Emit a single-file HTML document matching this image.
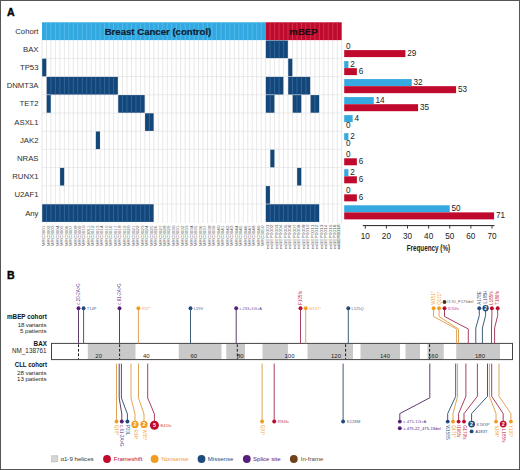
<!DOCTYPE html>
<html><head><meta charset="utf-8"><style>
html,body{margin:0;padding:0;background:#fff;}
body{width:520px;height:470px;overflow:hidden;}
svg{display:block;font-family:"Liberation Sans", sans-serif;}
</style></head><body>
<svg width="520" height="470" viewBox="0 0 520 470">
<rect x="0" y="0" width="520" height="470" fill="#fff"/>
<text x="7" y="16.4" font-size="10.6" font-weight="bold" fill="#000" stroke="#000" stroke-width="0.35">A</text>
<text x="38.5" y="33.60" font-size="7.75" fill="#2e2e2e" text-anchor="end">Cohort</text>
<text x="38.5" y="51.80" font-size="7.75" fill="#2e2e2e" text-anchor="end">BAX</text>
<text x="38.5" y="70.00" font-size="7.75" fill="#2e2e2e" text-anchor="end">TP53</text>
<text x="38.5" y="88.20" font-size="7.75" fill="#2e2e2e" text-anchor="end">DNMT3A</text>
<text x="38.5" y="106.40" font-size="7.75" fill="#2e2e2e" text-anchor="end">TET2</text>
<text x="38.5" y="124.60" font-size="7.75" fill="#2e2e2e" text-anchor="end">ASXL1</text>
<text x="38.5" y="142.80" font-size="7.75" fill="#2e2e2e" text-anchor="end">JAK2</text>
<text x="38.5" y="161.00" font-size="7.75" fill="#2e2e2e" text-anchor="end">NRAS</text>
<text x="38.5" y="179.20" font-size="7.75" fill="#2e2e2e" text-anchor="end">RUNX1</text>
<text x="38.5" y="197.40" font-size="7.75" fill="#2e2e2e" text-anchor="end">U2AF1</text>
<text x="38.5" y="215.60" font-size="7.75" fill="#2e2e2e" text-anchor="end">Any</text>
<rect x="42.0" y="22.0" width="299.70" height="200.20" fill="#fff"/>
<line x1="42.00" y1="40.20" x2="42.00" y2="223.00" stroke="#d9d9d9" stroke-width="0.6"/>
<line x1="46.47" y1="40.20" x2="46.47" y2="223.00" stroke="#d9d9d9" stroke-width="0.6"/>
<line x1="50.95" y1="40.20" x2="50.95" y2="223.00" stroke="#d9d9d9" stroke-width="0.6"/>
<line x1="55.42" y1="40.20" x2="55.42" y2="223.00" stroke="#d9d9d9" stroke-width="0.6"/>
<line x1="59.89" y1="40.20" x2="59.89" y2="223.00" stroke="#d9d9d9" stroke-width="0.6"/>
<line x1="64.37" y1="40.20" x2="64.37" y2="223.00" stroke="#d9d9d9" stroke-width="0.6"/>
<line x1="68.84" y1="40.20" x2="68.84" y2="223.00" stroke="#d9d9d9" stroke-width="0.6"/>
<line x1="73.31" y1="40.20" x2="73.31" y2="223.00" stroke="#d9d9d9" stroke-width="0.6"/>
<line x1="77.79" y1="40.20" x2="77.79" y2="223.00" stroke="#d9d9d9" stroke-width="0.6"/>
<line x1="82.26" y1="40.20" x2="82.26" y2="223.00" stroke="#d9d9d9" stroke-width="0.6"/>
<line x1="86.73" y1="40.20" x2="86.73" y2="223.00" stroke="#d9d9d9" stroke-width="0.6"/>
<line x1="91.20" y1="40.20" x2="91.20" y2="223.00" stroke="#d9d9d9" stroke-width="0.6"/>
<line x1="95.68" y1="40.20" x2="95.68" y2="223.00" stroke="#d9d9d9" stroke-width="0.6"/>
<line x1="100.15" y1="40.20" x2="100.15" y2="223.00" stroke="#d9d9d9" stroke-width="0.6"/>
<line x1="104.62" y1="40.20" x2="104.62" y2="223.00" stroke="#d9d9d9" stroke-width="0.6"/>
<line x1="109.10" y1="40.20" x2="109.10" y2="223.00" stroke="#d9d9d9" stroke-width="0.6"/>
<line x1="113.57" y1="40.20" x2="113.57" y2="223.00" stroke="#d9d9d9" stroke-width="0.6"/>
<line x1="118.04" y1="40.20" x2="118.04" y2="223.00" stroke="#d9d9d9" stroke-width="0.6"/>
<line x1="122.52" y1="40.20" x2="122.52" y2="223.00" stroke="#d9d9d9" stroke-width="0.6"/>
<line x1="126.99" y1="40.20" x2="126.99" y2="223.00" stroke="#d9d9d9" stroke-width="0.6"/>
<line x1="131.46" y1="40.20" x2="131.46" y2="223.00" stroke="#d9d9d9" stroke-width="0.6"/>
<line x1="135.94" y1="40.20" x2="135.94" y2="223.00" stroke="#d9d9d9" stroke-width="0.6"/>
<line x1="140.41" y1="40.20" x2="140.41" y2="223.00" stroke="#d9d9d9" stroke-width="0.6"/>
<line x1="144.88" y1="40.20" x2="144.88" y2="223.00" stroke="#d9d9d9" stroke-width="0.6"/>
<line x1="149.36" y1="40.20" x2="149.36" y2="223.00" stroke="#d9d9d9" stroke-width="0.6"/>
<line x1="153.83" y1="40.20" x2="153.83" y2="223.00" stroke="#d9d9d9" stroke-width="0.6"/>
<line x1="158.30" y1="40.20" x2="158.30" y2="223.00" stroke="#d9d9d9" stroke-width="0.6"/>
<line x1="162.77" y1="40.20" x2="162.77" y2="223.00" stroke="#d9d9d9" stroke-width="0.6"/>
<line x1="167.25" y1="40.20" x2="167.25" y2="223.00" stroke="#d9d9d9" stroke-width="0.6"/>
<line x1="171.72" y1="40.20" x2="171.72" y2="223.00" stroke="#d9d9d9" stroke-width="0.6"/>
<line x1="176.19" y1="40.20" x2="176.19" y2="223.00" stroke="#d9d9d9" stroke-width="0.6"/>
<line x1="180.67" y1="40.20" x2="180.67" y2="223.00" stroke="#d9d9d9" stroke-width="0.6"/>
<line x1="185.14" y1="40.20" x2="185.14" y2="223.00" stroke="#d9d9d9" stroke-width="0.6"/>
<line x1="189.61" y1="40.20" x2="189.61" y2="223.00" stroke="#d9d9d9" stroke-width="0.6"/>
<line x1="194.09" y1="40.20" x2="194.09" y2="223.00" stroke="#d9d9d9" stroke-width="0.6"/>
<line x1="198.56" y1="40.20" x2="198.56" y2="223.00" stroke="#d9d9d9" stroke-width="0.6"/>
<line x1="203.03" y1="40.20" x2="203.03" y2="223.00" stroke="#d9d9d9" stroke-width="0.6"/>
<line x1="207.51" y1="40.20" x2="207.51" y2="223.00" stroke="#d9d9d9" stroke-width="0.6"/>
<line x1="211.98" y1="40.20" x2="211.98" y2="223.00" stroke="#d9d9d9" stroke-width="0.6"/>
<line x1="216.45" y1="40.20" x2="216.45" y2="223.00" stroke="#d9d9d9" stroke-width="0.6"/>
<line x1="220.93" y1="40.20" x2="220.93" y2="223.00" stroke="#d9d9d9" stroke-width="0.6"/>
<line x1="225.40" y1="40.20" x2="225.40" y2="223.00" stroke="#d9d9d9" stroke-width="0.6"/>
<line x1="229.87" y1="40.20" x2="229.87" y2="223.00" stroke="#d9d9d9" stroke-width="0.6"/>
<line x1="234.34" y1="40.20" x2="234.34" y2="223.00" stroke="#d9d9d9" stroke-width="0.6"/>
<line x1="238.82" y1="40.20" x2="238.82" y2="223.00" stroke="#d9d9d9" stroke-width="0.6"/>
<line x1="243.29" y1="40.20" x2="243.29" y2="223.00" stroke="#d9d9d9" stroke-width="0.6"/>
<line x1="247.76" y1="40.20" x2="247.76" y2="223.00" stroke="#d9d9d9" stroke-width="0.6"/>
<line x1="252.24" y1="40.20" x2="252.24" y2="223.00" stroke="#d9d9d9" stroke-width="0.6"/>
<line x1="256.71" y1="40.20" x2="256.71" y2="223.00" stroke="#d9d9d9" stroke-width="0.6"/>
<line x1="261.18" y1="40.20" x2="261.18" y2="223.00" stroke="#d9d9d9" stroke-width="0.6"/>
<line x1="265.66" y1="40.20" x2="265.66" y2="223.00" stroke="#d9d9d9" stroke-width="0.6"/>
<line x1="270.13" y1="40.20" x2="270.13" y2="223.00" stroke="#d9d9d9" stroke-width="0.6"/>
<line x1="274.60" y1="40.20" x2="274.60" y2="223.00" stroke="#d9d9d9" stroke-width="0.6"/>
<line x1="279.08" y1="40.20" x2="279.08" y2="223.00" stroke="#d9d9d9" stroke-width="0.6"/>
<line x1="283.55" y1="40.20" x2="283.55" y2="223.00" stroke="#d9d9d9" stroke-width="0.6"/>
<line x1="288.02" y1="40.20" x2="288.02" y2="223.00" stroke="#d9d9d9" stroke-width="0.6"/>
<line x1="292.50" y1="40.20" x2="292.50" y2="223.00" stroke="#d9d9d9" stroke-width="0.6"/>
<line x1="296.97" y1="40.20" x2="296.97" y2="223.00" stroke="#d9d9d9" stroke-width="0.6"/>
<line x1="301.44" y1="40.20" x2="301.44" y2="223.00" stroke="#d9d9d9" stroke-width="0.6"/>
<line x1="305.91" y1="40.20" x2="305.91" y2="223.00" stroke="#d9d9d9" stroke-width="0.6"/>
<line x1="310.39" y1="40.20" x2="310.39" y2="223.00" stroke="#d9d9d9" stroke-width="0.6"/>
<line x1="314.86" y1="40.20" x2="314.86" y2="223.00" stroke="#d9d9d9" stroke-width="0.6"/>
<line x1="319.33" y1="40.20" x2="319.33" y2="223.00" stroke="#d9d9d9" stroke-width="0.6"/>
<line x1="323.81" y1="40.20" x2="323.81" y2="223.00" stroke="#d9d9d9" stroke-width="0.6"/>
<line x1="328.28" y1="40.20" x2="328.28" y2="223.00" stroke="#d9d9d9" stroke-width="0.6"/>
<line x1="332.75" y1="40.20" x2="332.75" y2="223.00" stroke="#d9d9d9" stroke-width="0.6"/>
<line x1="337.23" y1="40.20" x2="337.23" y2="223.00" stroke="#d9d9d9" stroke-width="0.6"/>
<line x1="341.70" y1="40.20" x2="341.70" y2="223.00" stroke="#d9d9d9" stroke-width="0.6"/>
<line x1="42.0" y1="58.40" x2="341.70" y2="58.40" stroke="#dedede" stroke-width="0.6"/>
<line x1="42.0" y1="76.60" x2="341.70" y2="76.60" stroke="#dedede" stroke-width="0.6"/>
<line x1="42.0" y1="94.80" x2="341.70" y2="94.80" stroke="#dedede" stroke-width="0.6"/>
<line x1="42.0" y1="113.00" x2="341.70" y2="113.00" stroke="#dedede" stroke-width="0.6"/>
<line x1="42.0" y1="131.20" x2="341.70" y2="131.20" stroke="#dedede" stroke-width="0.6"/>
<line x1="42.0" y1="149.40" x2="341.70" y2="149.40" stroke="#dedede" stroke-width="0.6"/>
<line x1="42.0" y1="167.60" x2="341.70" y2="167.60" stroke="#dedede" stroke-width="0.6"/>
<line x1="42.0" y1="185.80" x2="341.70" y2="185.80" stroke="#dedede" stroke-width="0.6"/>
<line x1="42.0" y1="204.00" x2="341.70" y2="204.00" stroke="#dedede" stroke-width="0.6"/>
<rect x="42.0" y="22.3" width="223.66" height="17.80" fill="#32a8e0"/>
<rect x="265.66" y="22.3" width="76.04" height="17.80" fill="#be0a2c"/>
<line x1="46.47" y1="22.3" x2="46.47" y2="40.10" stroke="#5bbfee" stroke-width="0.8"/>
<line x1="50.95" y1="22.3" x2="50.95" y2="40.10" stroke="#5bbfee" stroke-width="0.8"/>
<line x1="55.42" y1="22.3" x2="55.42" y2="40.10" stroke="#5bbfee" stroke-width="0.8"/>
<line x1="59.89" y1="22.3" x2="59.89" y2="40.10" stroke="#5bbfee" stroke-width="0.8"/>
<line x1="64.37" y1="22.3" x2="64.37" y2="40.10" stroke="#5bbfee" stroke-width="0.8"/>
<line x1="68.84" y1="22.3" x2="68.84" y2="40.10" stroke="#5bbfee" stroke-width="0.8"/>
<line x1="73.31" y1="22.3" x2="73.31" y2="40.10" stroke="#5bbfee" stroke-width="0.8"/>
<line x1="77.79" y1="22.3" x2="77.79" y2="40.10" stroke="#5bbfee" stroke-width="0.8"/>
<line x1="82.26" y1="22.3" x2="82.26" y2="40.10" stroke="#5bbfee" stroke-width="0.8"/>
<line x1="86.73" y1="22.3" x2="86.73" y2="40.10" stroke="#5bbfee" stroke-width="0.8"/>
<line x1="91.20" y1="22.3" x2="91.20" y2="40.10" stroke="#5bbfee" stroke-width="0.8"/>
<line x1="95.68" y1="22.3" x2="95.68" y2="40.10" stroke="#5bbfee" stroke-width="0.8"/>
<line x1="100.15" y1="22.3" x2="100.15" y2="40.10" stroke="#5bbfee" stroke-width="0.8"/>
<line x1="104.62" y1="22.3" x2="104.62" y2="40.10" stroke="#5bbfee" stroke-width="0.8"/>
<line x1="109.10" y1="22.3" x2="109.10" y2="40.10" stroke="#5bbfee" stroke-width="0.8"/>
<line x1="113.57" y1="22.3" x2="113.57" y2="40.10" stroke="#5bbfee" stroke-width="0.8"/>
<line x1="118.04" y1="22.3" x2="118.04" y2="40.10" stroke="#5bbfee" stroke-width="0.8"/>
<line x1="122.52" y1="22.3" x2="122.52" y2="40.10" stroke="#5bbfee" stroke-width="0.8"/>
<line x1="126.99" y1="22.3" x2="126.99" y2="40.10" stroke="#5bbfee" stroke-width="0.8"/>
<line x1="131.46" y1="22.3" x2="131.46" y2="40.10" stroke="#5bbfee" stroke-width="0.8"/>
<line x1="135.94" y1="22.3" x2="135.94" y2="40.10" stroke="#5bbfee" stroke-width="0.8"/>
<line x1="140.41" y1="22.3" x2="140.41" y2="40.10" stroke="#5bbfee" stroke-width="0.8"/>
<line x1="144.88" y1="22.3" x2="144.88" y2="40.10" stroke="#5bbfee" stroke-width="0.8"/>
<line x1="149.36" y1="22.3" x2="149.36" y2="40.10" stroke="#5bbfee" stroke-width="0.8"/>
<line x1="153.83" y1="22.3" x2="153.83" y2="40.10" stroke="#5bbfee" stroke-width="0.8"/>
<line x1="158.30" y1="22.3" x2="158.30" y2="40.10" stroke="#5bbfee" stroke-width="0.8"/>
<line x1="162.77" y1="22.3" x2="162.77" y2="40.10" stroke="#5bbfee" stroke-width="0.8"/>
<line x1="167.25" y1="22.3" x2="167.25" y2="40.10" stroke="#5bbfee" stroke-width="0.8"/>
<line x1="171.72" y1="22.3" x2="171.72" y2="40.10" stroke="#5bbfee" stroke-width="0.8"/>
<line x1="176.19" y1="22.3" x2="176.19" y2="40.10" stroke="#5bbfee" stroke-width="0.8"/>
<line x1="180.67" y1="22.3" x2="180.67" y2="40.10" stroke="#5bbfee" stroke-width="0.8"/>
<line x1="185.14" y1="22.3" x2="185.14" y2="40.10" stroke="#5bbfee" stroke-width="0.8"/>
<line x1="189.61" y1="22.3" x2="189.61" y2="40.10" stroke="#5bbfee" stroke-width="0.8"/>
<line x1="194.09" y1="22.3" x2="194.09" y2="40.10" stroke="#5bbfee" stroke-width="0.8"/>
<line x1="198.56" y1="22.3" x2="198.56" y2="40.10" stroke="#5bbfee" stroke-width="0.8"/>
<line x1="203.03" y1="22.3" x2="203.03" y2="40.10" stroke="#5bbfee" stroke-width="0.8"/>
<line x1="207.51" y1="22.3" x2="207.51" y2="40.10" stroke="#5bbfee" stroke-width="0.8"/>
<line x1="211.98" y1="22.3" x2="211.98" y2="40.10" stroke="#5bbfee" stroke-width="0.8"/>
<line x1="216.45" y1="22.3" x2="216.45" y2="40.10" stroke="#5bbfee" stroke-width="0.8"/>
<line x1="220.93" y1="22.3" x2="220.93" y2="40.10" stroke="#5bbfee" stroke-width="0.8"/>
<line x1="225.40" y1="22.3" x2="225.40" y2="40.10" stroke="#5bbfee" stroke-width="0.8"/>
<line x1="229.87" y1="22.3" x2="229.87" y2="40.10" stroke="#5bbfee" stroke-width="0.8"/>
<line x1="234.34" y1="22.3" x2="234.34" y2="40.10" stroke="#5bbfee" stroke-width="0.8"/>
<line x1="238.82" y1="22.3" x2="238.82" y2="40.10" stroke="#5bbfee" stroke-width="0.8"/>
<line x1="243.29" y1="22.3" x2="243.29" y2="40.10" stroke="#5bbfee" stroke-width="0.8"/>
<line x1="247.76" y1="22.3" x2="247.76" y2="40.10" stroke="#5bbfee" stroke-width="0.8"/>
<line x1="252.24" y1="22.3" x2="252.24" y2="40.10" stroke="#5bbfee" stroke-width="0.8"/>
<line x1="256.71" y1="22.3" x2="256.71" y2="40.10" stroke="#5bbfee" stroke-width="0.8"/>
<line x1="261.18" y1="22.3" x2="261.18" y2="40.10" stroke="#5bbfee" stroke-width="0.8"/>
<line x1="270.13" y1="22.3" x2="270.13" y2="40.10" stroke="#dc3a58" stroke-width="0.8"/>
<line x1="274.60" y1="22.3" x2="274.60" y2="40.10" stroke="#dc3a58" stroke-width="0.8"/>
<line x1="279.08" y1="22.3" x2="279.08" y2="40.10" stroke="#dc3a58" stroke-width="0.8"/>
<line x1="283.55" y1="22.3" x2="283.55" y2="40.10" stroke="#dc3a58" stroke-width="0.8"/>
<line x1="288.02" y1="22.3" x2="288.02" y2="40.10" stroke="#dc3a58" stroke-width="0.8"/>
<line x1="292.50" y1="22.3" x2="292.50" y2="40.10" stroke="#dc3a58" stroke-width="0.8"/>
<line x1="296.97" y1="22.3" x2="296.97" y2="40.10" stroke="#dc3a58" stroke-width="0.8"/>
<line x1="301.44" y1="22.3" x2="301.44" y2="40.10" stroke="#dc3a58" stroke-width="0.8"/>
<line x1="305.91" y1="22.3" x2="305.91" y2="40.10" stroke="#dc3a58" stroke-width="0.8"/>
<line x1="310.39" y1="22.3" x2="310.39" y2="40.10" stroke="#dc3a58" stroke-width="0.8"/>
<line x1="314.86" y1="22.3" x2="314.86" y2="40.10" stroke="#dc3a58" stroke-width="0.8"/>
<line x1="319.33" y1="22.3" x2="319.33" y2="40.10" stroke="#dc3a58" stroke-width="0.8"/>
<line x1="323.81" y1="22.3" x2="323.81" y2="40.10" stroke="#dc3a58" stroke-width="0.8"/>
<line x1="328.28" y1="22.3" x2="328.28" y2="40.10" stroke="#dc3a58" stroke-width="0.8"/>
<line x1="332.75" y1="22.3" x2="332.75" y2="40.10" stroke="#dc3a58" stroke-width="0.8"/>
<line x1="337.23" y1="22.3" x2="337.23" y2="40.10" stroke="#dc3a58" stroke-width="0.8"/>
<rect x="265.86" y="40.50" width="21.97" height="17.60" fill="#134679"/>
<line x1="270.13" y1="40.55" x2="270.13" y2="58.05" stroke="#3b72aa" stroke-width="0.7"/>
<line x1="274.60" y1="40.55" x2="274.60" y2="58.05" stroke="#3b72aa" stroke-width="0.7"/>
<line x1="279.08" y1="40.55" x2="279.08" y2="58.05" stroke="#3b72aa" stroke-width="0.7"/>
<line x1="283.55" y1="40.55" x2="283.55" y2="58.05" stroke="#3b72aa" stroke-width="0.7"/>
<rect x="42.20" y="58.70" width="4.07" height="17.60" fill="#134679"/>
<rect x="288.22" y="58.70" width="4.07" height="17.60" fill="#134679"/>
<rect x="46.67" y="76.90" width="71.17" height="17.60" fill="#134679"/>
<line x1="50.95" y1="76.95" x2="50.95" y2="94.45" stroke="#3b72aa" stroke-width="0.7"/>
<line x1="55.42" y1="76.95" x2="55.42" y2="94.45" stroke="#3b72aa" stroke-width="0.7"/>
<line x1="59.89" y1="76.95" x2="59.89" y2="94.45" stroke="#3b72aa" stroke-width="0.7"/>
<line x1="64.37" y1="76.95" x2="64.37" y2="94.45" stroke="#3b72aa" stroke-width="0.7"/>
<line x1="68.84" y1="76.95" x2="68.84" y2="94.45" stroke="#3b72aa" stroke-width="0.7"/>
<line x1="73.31" y1="76.95" x2="73.31" y2="94.45" stroke="#3b72aa" stroke-width="0.7"/>
<line x1="77.79" y1="76.95" x2="77.79" y2="94.45" stroke="#3b72aa" stroke-width="0.7"/>
<line x1="82.26" y1="76.95" x2="82.26" y2="94.45" stroke="#3b72aa" stroke-width="0.7"/>
<line x1="86.73" y1="76.95" x2="86.73" y2="94.45" stroke="#3b72aa" stroke-width="0.7"/>
<line x1="91.20" y1="76.95" x2="91.20" y2="94.45" stroke="#3b72aa" stroke-width="0.7"/>
<line x1="95.68" y1="76.95" x2="95.68" y2="94.45" stroke="#3b72aa" stroke-width="0.7"/>
<line x1="100.15" y1="76.95" x2="100.15" y2="94.45" stroke="#3b72aa" stroke-width="0.7"/>
<line x1="104.62" y1="76.95" x2="104.62" y2="94.45" stroke="#3b72aa" stroke-width="0.7"/>
<line x1="109.10" y1="76.95" x2="109.10" y2="94.45" stroke="#3b72aa" stroke-width="0.7"/>
<line x1="113.57" y1="76.95" x2="113.57" y2="94.45" stroke="#3b72aa" stroke-width="0.7"/>
<rect x="265.86" y="76.90" width="17.49" height="17.60" fill="#134679"/>
<line x1="270.13" y1="76.95" x2="270.13" y2="94.45" stroke="#3b72aa" stroke-width="0.7"/>
<line x1="274.60" y1="76.95" x2="274.60" y2="94.45" stroke="#3b72aa" stroke-width="0.7"/>
<line x1="279.08" y1="76.95" x2="279.08" y2="94.45" stroke="#3b72aa" stroke-width="0.7"/>
<rect x="288.22" y="76.90" width="21.97" height="17.60" fill="#134679"/>
<line x1="292.50" y1="76.95" x2="292.50" y2="94.45" stroke="#3b72aa" stroke-width="0.7"/>
<line x1="296.97" y1="76.95" x2="296.97" y2="94.45" stroke="#3b72aa" stroke-width="0.7"/>
<line x1="301.44" y1="76.95" x2="301.44" y2="94.45" stroke="#3b72aa" stroke-width="0.7"/>
<line x1="305.91" y1="76.95" x2="305.91" y2="94.45" stroke="#3b72aa" stroke-width="0.7"/>
<rect x="46.67" y="95.10" width="4.07" height="17.60" fill="#134679"/>
<rect x="118.24" y="95.10" width="26.44" height="17.60" fill="#134679"/>
<line x1="122.52" y1="95.15" x2="122.52" y2="112.65" stroke="#3b72aa" stroke-width="0.7"/>
<line x1="126.99" y1="95.15" x2="126.99" y2="112.65" stroke="#3b72aa" stroke-width="0.7"/>
<line x1="131.46" y1="95.15" x2="131.46" y2="112.65" stroke="#3b72aa" stroke-width="0.7"/>
<line x1="135.94" y1="95.15" x2="135.94" y2="112.65" stroke="#3b72aa" stroke-width="0.7"/>
<line x1="140.41" y1="95.15" x2="140.41" y2="112.65" stroke="#3b72aa" stroke-width="0.7"/>
<rect x="265.86" y="95.10" width="8.55" height="17.60" fill="#134679"/>
<line x1="270.13" y1="95.15" x2="270.13" y2="112.65" stroke="#3b72aa" stroke-width="0.7"/>
<rect x="292.70" y="95.10" width="8.55" height="17.60" fill="#134679"/>
<line x1="296.97" y1="95.15" x2="296.97" y2="112.65" stroke="#3b72aa" stroke-width="0.7"/>
<rect x="310.59" y="95.10" width="8.55" height="17.60" fill="#134679"/>
<line x1="314.86" y1="95.15" x2="314.86" y2="112.65" stroke="#3b72aa" stroke-width="0.7"/>
<rect x="145.08" y="113.30" width="8.55" height="17.60" fill="#134679"/>
<line x1="149.36" y1="113.35" x2="149.36" y2="130.85" stroke="#3b72aa" stroke-width="0.7"/>
<rect x="95.88" y="131.50" width="4.07" height="17.60" fill="#134679"/>
<rect x="270.33" y="149.70" width="4.07" height="17.60" fill="#134679"/>
<rect x="60.09" y="167.90" width="4.07" height="17.60" fill="#134679"/>
<rect x="297.17" y="167.90" width="4.07" height="17.60" fill="#134679"/>
<rect x="265.86" y="186.10" width="4.07" height="17.60" fill="#134679"/>
<rect x="42.20" y="204.30" width="111.43" height="17.60" fill="#134679"/>
<line x1="46.47" y1="204.35" x2="46.47" y2="221.85" stroke="#3b72aa" stroke-width="0.7"/>
<line x1="50.95" y1="204.35" x2="50.95" y2="221.85" stroke="#3b72aa" stroke-width="0.7"/>
<line x1="55.42" y1="204.35" x2="55.42" y2="221.85" stroke="#3b72aa" stroke-width="0.7"/>
<line x1="59.89" y1="204.35" x2="59.89" y2="221.85" stroke="#3b72aa" stroke-width="0.7"/>
<line x1="64.37" y1="204.35" x2="64.37" y2="221.85" stroke="#3b72aa" stroke-width="0.7"/>
<line x1="68.84" y1="204.35" x2="68.84" y2="221.85" stroke="#3b72aa" stroke-width="0.7"/>
<line x1="73.31" y1="204.35" x2="73.31" y2="221.85" stroke="#3b72aa" stroke-width="0.7"/>
<line x1="77.79" y1="204.35" x2="77.79" y2="221.85" stroke="#3b72aa" stroke-width="0.7"/>
<line x1="82.26" y1="204.35" x2="82.26" y2="221.85" stroke="#3b72aa" stroke-width="0.7"/>
<line x1="86.73" y1="204.35" x2="86.73" y2="221.85" stroke="#3b72aa" stroke-width="0.7"/>
<line x1="91.20" y1="204.35" x2="91.20" y2="221.85" stroke="#3b72aa" stroke-width="0.7"/>
<line x1="95.68" y1="204.35" x2="95.68" y2="221.85" stroke="#3b72aa" stroke-width="0.7"/>
<line x1="100.15" y1="204.35" x2="100.15" y2="221.85" stroke="#3b72aa" stroke-width="0.7"/>
<line x1="104.62" y1="204.35" x2="104.62" y2="221.85" stroke="#3b72aa" stroke-width="0.7"/>
<line x1="109.10" y1="204.35" x2="109.10" y2="221.85" stroke="#3b72aa" stroke-width="0.7"/>
<line x1="113.57" y1="204.35" x2="113.57" y2="221.85" stroke="#3b72aa" stroke-width="0.7"/>
<line x1="118.04" y1="204.35" x2="118.04" y2="221.85" stroke="#3b72aa" stroke-width="0.7"/>
<line x1="122.52" y1="204.35" x2="122.52" y2="221.85" stroke="#3b72aa" stroke-width="0.7"/>
<line x1="126.99" y1="204.35" x2="126.99" y2="221.85" stroke="#3b72aa" stroke-width="0.7"/>
<line x1="131.46" y1="204.35" x2="131.46" y2="221.85" stroke="#3b72aa" stroke-width="0.7"/>
<line x1="135.94" y1="204.35" x2="135.94" y2="221.85" stroke="#3b72aa" stroke-width="0.7"/>
<line x1="140.41" y1="204.35" x2="140.41" y2="221.85" stroke="#3b72aa" stroke-width="0.7"/>
<line x1="144.88" y1="204.35" x2="144.88" y2="221.85" stroke="#3b72aa" stroke-width="0.7"/>
<line x1="149.36" y1="204.35" x2="149.36" y2="221.85" stroke="#3b72aa" stroke-width="0.7"/>
<rect x="265.86" y="204.30" width="53.28" height="17.60" fill="#134679"/>
<line x1="270.13" y1="204.35" x2="270.13" y2="221.85" stroke="#3b72aa" stroke-width="0.7"/>
<line x1="274.60" y1="204.35" x2="274.60" y2="221.85" stroke="#3b72aa" stroke-width="0.7"/>
<line x1="279.08" y1="204.35" x2="279.08" y2="221.85" stroke="#3b72aa" stroke-width="0.7"/>
<line x1="283.55" y1="204.35" x2="283.55" y2="221.85" stroke="#3b72aa" stroke-width="0.7"/>
<line x1="288.02" y1="204.35" x2="288.02" y2="221.85" stroke="#3b72aa" stroke-width="0.7"/>
<line x1="292.50" y1="204.35" x2="292.50" y2="221.85" stroke="#3b72aa" stroke-width="0.7"/>
<line x1="296.97" y1="204.35" x2="296.97" y2="221.85" stroke="#3b72aa" stroke-width="0.7"/>
<line x1="301.44" y1="204.35" x2="301.44" y2="221.85" stroke="#3b72aa" stroke-width="0.7"/>
<line x1="305.91" y1="204.35" x2="305.91" y2="221.85" stroke="#3b72aa" stroke-width="0.7"/>
<line x1="310.39" y1="204.35" x2="310.39" y2="221.85" stroke="#3b72aa" stroke-width="0.7"/>
<line x1="314.86" y1="204.35" x2="314.86" y2="221.85" stroke="#3b72aa" stroke-width="0.7"/>
<text x="158.0" y="34.8" font-size="9.6" font-weight="bold" fill="#0f1b30" stroke="#0f1b30" stroke-width="0.15" text-anchor="middle">Breast Cancer (control)</text>
<text x="303.5" y="34.8" font-size="9.6" font-weight="bold" fill="#220a0e" stroke="#220a0e" stroke-width="0.15" text-anchor="middle">mBEP</text>
<text transform="translate(45.24,246.30) rotate(-90)" font-size="3.6" fill="#5a5a5a" textLength="20.8" lengthAdjust="spacingAndGlyphs">MRC3001</text>
<text transform="translate(49.71,246.30) rotate(-90)" font-size="3.6" fill="#5a5a5a" textLength="20.8" lengthAdjust="spacingAndGlyphs">MRC3002</text>
<text transform="translate(54.18,246.30) rotate(-90)" font-size="3.6" fill="#5a5a5a" textLength="20.8" lengthAdjust="spacingAndGlyphs">MRC3003</text>
<text transform="translate(58.66,246.30) rotate(-90)" font-size="3.6" fill="#5a5a5a" textLength="20.8" lengthAdjust="spacingAndGlyphs">MRC3004</text>
<text transform="translate(63.13,246.30) rotate(-90)" font-size="3.6" fill="#5a5a5a" textLength="20.8" lengthAdjust="spacingAndGlyphs">MRC3005</text>
<text transform="translate(67.60,246.30) rotate(-90)" font-size="3.6" fill="#5a5a5a" textLength="20.8" lengthAdjust="spacingAndGlyphs">MRC3006</text>
<text transform="translate(72.08,246.30) rotate(-90)" font-size="3.6" fill="#5a5a5a" textLength="20.8" lengthAdjust="spacingAndGlyphs">MRC3007</text>
<text transform="translate(76.55,246.30) rotate(-90)" font-size="3.6" fill="#5a5a5a" textLength="20.8" lengthAdjust="spacingAndGlyphs">MRC3008</text>
<text transform="translate(81.02,246.30) rotate(-90)" font-size="3.6" fill="#5a5a5a" textLength="20.8" lengthAdjust="spacingAndGlyphs">MRC3009</text>
<text transform="translate(85.49,246.30) rotate(-90)" font-size="3.6" fill="#5a5a5a" textLength="20.8" lengthAdjust="spacingAndGlyphs">MRC3010</text>
<text transform="translate(89.97,246.30) rotate(-90)" font-size="3.6" fill="#5a5a5a" textLength="20.8" lengthAdjust="spacingAndGlyphs">MRC3011</text>
<text transform="translate(94.44,246.30) rotate(-90)" font-size="3.6" fill="#5a5a5a" textLength="20.8" lengthAdjust="spacingAndGlyphs">MRC3012</text>
<text transform="translate(98.91,246.30) rotate(-90)" font-size="3.6" fill="#5a5a5a" textLength="20.8" lengthAdjust="spacingAndGlyphs">MRC3013</text>
<text transform="translate(103.39,246.30) rotate(-90)" font-size="3.6" fill="#5a5a5a" textLength="20.8" lengthAdjust="spacingAndGlyphs">MRC3014</text>
<text transform="translate(107.86,246.30) rotate(-90)" font-size="3.6" fill="#5a5a5a" textLength="20.8" lengthAdjust="spacingAndGlyphs">MRC3015</text>
<text transform="translate(112.33,246.30) rotate(-90)" font-size="3.6" fill="#5a5a5a" textLength="20.8" lengthAdjust="spacingAndGlyphs">MRC3016</text>
<text transform="translate(116.81,246.30) rotate(-90)" font-size="3.6" fill="#5a5a5a" textLength="20.8" lengthAdjust="spacingAndGlyphs">MRC3017</text>
<text transform="translate(121.28,246.30) rotate(-90)" font-size="3.6" fill="#5a5a5a" textLength="20.8" lengthAdjust="spacingAndGlyphs">MRC3018</text>
<text transform="translate(125.75,246.30) rotate(-90)" font-size="3.6" fill="#5a5a5a" textLength="20.8" lengthAdjust="spacingAndGlyphs">MRC3019</text>
<text transform="translate(130.23,246.30) rotate(-90)" font-size="3.6" fill="#5a5a5a" textLength="20.8" lengthAdjust="spacingAndGlyphs">MRC3020</text>
<text transform="translate(134.70,246.30) rotate(-90)" font-size="3.6" fill="#5a5a5a" textLength="20.8" lengthAdjust="spacingAndGlyphs">MRC3021</text>
<text transform="translate(139.17,246.30) rotate(-90)" font-size="3.6" fill="#5a5a5a" textLength="20.8" lengthAdjust="spacingAndGlyphs">MRC3022</text>
<text transform="translate(143.65,246.30) rotate(-90)" font-size="3.6" fill="#5a5a5a" textLength="20.8" lengthAdjust="spacingAndGlyphs">MRC3023</text>
<text transform="translate(148.12,246.30) rotate(-90)" font-size="3.6" fill="#5a5a5a" textLength="20.8" lengthAdjust="spacingAndGlyphs">MRC3024</text>
<text transform="translate(152.59,246.30) rotate(-90)" font-size="3.6" fill="#5a5a5a" textLength="20.8" lengthAdjust="spacingAndGlyphs">MRC3025</text>
<text transform="translate(157.06,246.30) rotate(-90)" font-size="3.6" fill="#5a5a5a" textLength="20.8" lengthAdjust="spacingAndGlyphs">MRC3026</text>
<text transform="translate(161.54,246.30) rotate(-90)" font-size="3.6" fill="#5a5a5a" textLength="20.8" lengthAdjust="spacingAndGlyphs">MRC3027</text>
<text transform="translate(166.01,246.30) rotate(-90)" font-size="3.6" fill="#5a5a5a" textLength="20.8" lengthAdjust="spacingAndGlyphs">MRC3028</text>
<text transform="translate(170.48,246.30) rotate(-90)" font-size="3.6" fill="#5a5a5a" textLength="20.8" lengthAdjust="spacingAndGlyphs">MRC3029</text>
<text transform="translate(174.96,246.30) rotate(-90)" font-size="3.6" fill="#5a5a5a" textLength="20.8" lengthAdjust="spacingAndGlyphs">MRC3030</text>
<text transform="translate(179.43,246.30) rotate(-90)" font-size="3.6" fill="#5a5a5a" textLength="20.8" lengthAdjust="spacingAndGlyphs">MRC3031</text>
<text transform="translate(183.90,246.30) rotate(-90)" font-size="3.6" fill="#5a5a5a" textLength="20.8" lengthAdjust="spacingAndGlyphs">MRC3032</text>
<text transform="translate(188.38,246.30) rotate(-90)" font-size="3.6" fill="#5a5a5a" textLength="20.8" lengthAdjust="spacingAndGlyphs">MRC3033</text>
<text transform="translate(192.85,246.30) rotate(-90)" font-size="3.6" fill="#5a5a5a" textLength="20.8" lengthAdjust="spacingAndGlyphs">MRC3034</text>
<text transform="translate(197.32,246.30) rotate(-90)" font-size="3.6" fill="#5a5a5a" textLength="20.8" lengthAdjust="spacingAndGlyphs">MRC3035</text>
<text transform="translate(201.80,246.30) rotate(-90)" font-size="3.6" fill="#5a5a5a" textLength="20.8" lengthAdjust="spacingAndGlyphs">MRC3036</text>
<text transform="translate(206.27,246.30) rotate(-90)" font-size="3.6" fill="#5a5a5a" textLength="20.8" lengthAdjust="spacingAndGlyphs">MRC3037</text>
<text transform="translate(210.74,246.30) rotate(-90)" font-size="3.6" fill="#5a5a5a" textLength="20.8" lengthAdjust="spacingAndGlyphs">MRC3038</text>
<text transform="translate(215.22,246.30) rotate(-90)" font-size="3.6" fill="#5a5a5a" textLength="20.8" lengthAdjust="spacingAndGlyphs">MRC3039</text>
<text transform="translate(219.69,246.30) rotate(-90)" font-size="3.6" fill="#5a5a5a" textLength="20.8" lengthAdjust="spacingAndGlyphs">MRC3040</text>
<text transform="translate(224.16,246.30) rotate(-90)" font-size="3.6" fill="#5a5a5a" textLength="20.8" lengthAdjust="spacingAndGlyphs">MRC3041</text>
<text transform="translate(228.64,246.30) rotate(-90)" font-size="3.6" fill="#5a5a5a" textLength="20.8" lengthAdjust="spacingAndGlyphs">MRC3042</text>
<text transform="translate(233.11,246.30) rotate(-90)" font-size="3.6" fill="#5a5a5a" textLength="20.8" lengthAdjust="spacingAndGlyphs">MRC3043</text>
<text transform="translate(237.58,246.30) rotate(-90)" font-size="3.6" fill="#5a5a5a" textLength="20.8" lengthAdjust="spacingAndGlyphs">MRC3044</text>
<text transform="translate(242.05,246.30) rotate(-90)" font-size="3.6" fill="#5a5a5a" textLength="20.8" lengthAdjust="spacingAndGlyphs">MRC3045</text>
<text transform="translate(246.53,246.30) rotate(-90)" font-size="3.6" fill="#5a5a5a" textLength="20.8" lengthAdjust="spacingAndGlyphs">MRC3046</text>
<text transform="translate(251.00,246.30) rotate(-90)" font-size="3.6" fill="#5a5a5a" textLength="20.8" lengthAdjust="spacingAndGlyphs">MRC3047</text>
<text transform="translate(255.47,246.30) rotate(-90)" font-size="3.6" fill="#5a5a5a" textLength="20.8" lengthAdjust="spacingAndGlyphs">MRC3048</text>
<text transform="translate(259.95,246.30) rotate(-90)" font-size="3.6" fill="#5a5a5a" textLength="20.8" lengthAdjust="spacingAndGlyphs">MRC3049</text>
<text transform="translate(264.42,246.30) rotate(-90)" font-size="3.6" fill="#5a5a5a" textLength="20.8" lengthAdjust="spacingAndGlyphs">MRC3050</text>
<text transform="translate(268.89,249.10) rotate(-90)" font-size="3.6" fill="#5a5a5a" textLength="24.6" lengthAdjust="spacingAndGlyphs">mBEP0001</text>
<text transform="translate(273.37,249.10) rotate(-90)" font-size="3.6" fill="#5a5a5a" textLength="24.6" lengthAdjust="spacingAndGlyphs">mBEP0002</text>
<text transform="translate(277.84,249.10) rotate(-90)" font-size="3.6" fill="#5a5a5a" textLength="24.6" lengthAdjust="spacingAndGlyphs">mBEP0003</text>
<text transform="translate(282.31,249.10) rotate(-90)" font-size="3.6" fill="#5a5a5a" textLength="24.6" lengthAdjust="spacingAndGlyphs">mBEP0004</text>
<text transform="translate(286.79,249.10) rotate(-90)" font-size="3.6" fill="#5a5a5a" textLength="24.6" lengthAdjust="spacingAndGlyphs">mBEP0005</text>
<text transform="translate(291.26,249.10) rotate(-90)" font-size="3.6" fill="#5a5a5a" textLength="24.6" lengthAdjust="spacingAndGlyphs">mBEP0006</text>
<text transform="translate(295.73,249.10) rotate(-90)" font-size="3.6" fill="#5a5a5a" textLength="24.6" lengthAdjust="spacingAndGlyphs">mBEP0007</text>
<text transform="translate(300.21,249.10) rotate(-90)" font-size="3.6" fill="#5a5a5a" textLength="24.6" lengthAdjust="spacingAndGlyphs">mBEP0008</text>
<text transform="translate(304.68,249.10) rotate(-90)" font-size="3.6" fill="#5a5a5a" textLength="24.6" lengthAdjust="spacingAndGlyphs">mBEP0009</text>
<text transform="translate(309.15,249.10) rotate(-90)" font-size="3.6" fill="#5a5a5a" textLength="24.6" lengthAdjust="spacingAndGlyphs">mBEP0010</text>
<text transform="translate(313.62,249.10) rotate(-90)" font-size="3.6" fill="#5a5a5a" textLength="24.6" lengthAdjust="spacingAndGlyphs">mBEP0011</text>
<text transform="translate(318.10,249.10) rotate(-90)" font-size="3.6" fill="#5a5a5a" textLength="24.6" lengthAdjust="spacingAndGlyphs">mBEP0012</text>
<text transform="translate(322.57,249.10) rotate(-90)" font-size="3.6" fill="#5a5a5a" textLength="24.6" lengthAdjust="spacingAndGlyphs">mBEP0013</text>
<text transform="translate(327.04,249.10) rotate(-90)" font-size="3.6" fill="#5a5a5a" textLength="24.6" lengthAdjust="spacingAndGlyphs">mBEP0014</text>
<text transform="translate(331.52,249.10) rotate(-90)" font-size="3.6" fill="#5a5a5a" textLength="24.6" lengthAdjust="spacingAndGlyphs">mBEP0015</text>
<text transform="translate(335.99,249.10) rotate(-90)" font-size="3.6" fill="#5a5a5a" textLength="24.6" lengthAdjust="spacingAndGlyphs">mBEP0016</text>
<text transform="translate(340.46,249.10) rotate(-90)" font-size="3.6" fill="#5a5a5a" textLength="24.6" lengthAdjust="spacingAndGlyphs">mBEP0017</text>
<rect x="344.2" y="50.10" width="61.22" height="7.0" fill="#c00a2d"/>
<text x="346.00" y="48.90" font-size="8.2" fill="#222">0</text>
<text x="407.22" y="56.00" font-size="8.2" fill="#222">29</text>
<rect x="344.2" y="61.03" width="4.22" height="7.0" fill="#36a9e1"/>
<rect x="344.2" y="68.13" width="12.67" height="7.0" fill="#c00a2d"/>
<text x="350.22" y="66.93" font-size="8.2" fill="#222">2</text>
<text x="358.67" y="74.03" font-size="8.2" fill="#222">6</text>
<rect x="344.2" y="79.06" width="67.55" height="7.0" fill="#36a9e1"/>
<rect x="344.2" y="86.16" width="111.88" height="7.0" fill="#c00a2d"/>
<text x="413.55" y="84.96" font-size="8.2" fill="#222">32</text>
<text x="457.88" y="92.06" font-size="8.2" fill="#222">53</text>
<rect x="344.2" y="97.09" width="29.55" height="7.0" fill="#36a9e1"/>
<rect x="344.2" y="104.19" width="73.89" height="7.0" fill="#c00a2d"/>
<text x="375.55" y="102.99" font-size="8.2" fill="#222">14</text>
<text x="419.88" y="110.09" font-size="8.2" fill="#222">35</text>
<rect x="344.2" y="115.12" width="8.44" height="7.0" fill="#36a9e1"/>
<text x="354.44" y="121.02" font-size="8.2" fill="#222">4</text>
<text x="346.00" y="128.12" font-size="8.2" fill="#222">0</text>
<rect x="344.2" y="133.15" width="4.22" height="7.0" fill="#36a9e1"/>
<text x="350.22" y="139.05" font-size="8.2" fill="#222">2</text>
<text x="346.00" y="146.15" font-size="8.2" fill="#222">0</text>
<rect x="344.2" y="158.28" width="12.67" height="7.0" fill="#c00a2d"/>
<text x="346.00" y="157.08" font-size="8.2" fill="#222">0</text>
<text x="358.67" y="164.18" font-size="8.2" fill="#222">6</text>
<rect x="344.2" y="169.21" width="4.22" height="7.0" fill="#36a9e1"/>
<rect x="344.2" y="176.31" width="12.67" height="7.0" fill="#c00a2d"/>
<text x="350.22" y="175.11" font-size="8.2" fill="#222">2</text>
<text x="358.67" y="182.21" font-size="8.2" fill="#222">6</text>
<rect x="344.2" y="194.34" width="12.67" height="7.0" fill="#c00a2d"/>
<text x="346.00" y="193.14" font-size="8.2" fill="#222">0</text>
<text x="358.67" y="200.24" font-size="8.2" fill="#222">6</text>
<rect x="344.2" y="205.27" width="105.55" height="7.0" fill="#36a9e1"/>
<rect x="344.2" y="212.37" width="149.88" height="7.0" fill="#c00a2d"/>
<text x="451.55" y="211.17" font-size="8.2" fill="#222">50</text>
<text x="495.88" y="218.27" font-size="8.2" fill="#222">71</text>
<line x1="362.8" y1="225.6" x2="494.5" y2="225.6" stroke="#222" stroke-width="1"/>
<line x1="365.31" y1="225.6" x2="365.31" y2="228.6" stroke="#222" stroke-width="0.9"/>
<text x="365.31" y="238.6" font-size="8.2" fill="#222" text-anchor="middle">10</text>
<line x1="386.42" y1="225.6" x2="386.42" y2="228.6" stroke="#222" stroke-width="0.9"/>
<text x="386.42" y="238.6" font-size="8.2" fill="#222" text-anchor="middle">20</text>
<line x1="407.53" y1="225.6" x2="407.53" y2="228.6" stroke="#222" stroke-width="0.9"/>
<text x="407.53" y="238.6" font-size="8.2" fill="#222" text-anchor="middle">30</text>
<line x1="428.64" y1="225.6" x2="428.64" y2="228.6" stroke="#222" stroke-width="0.9"/>
<text x="428.64" y="238.6" font-size="8.2" fill="#222" text-anchor="middle">40</text>
<line x1="449.75" y1="225.6" x2="449.75" y2="228.6" stroke="#222" stroke-width="0.9"/>
<text x="449.75" y="238.6" font-size="8.2" fill="#222" text-anchor="middle">50</text>
<line x1="470.86" y1="225.6" x2="470.86" y2="228.6" stroke="#222" stroke-width="0.9"/>
<text x="470.86" y="238.6" font-size="8.2" fill="#222" text-anchor="middle">60</text>
<line x1="491.97" y1="225.6" x2="491.97" y2="228.6" stroke="#222" stroke-width="0.9"/>
<text x="491.97" y="238.6" font-size="8.2" fill="#222" text-anchor="middle">70</text>
<text transform="translate(428.4,251.2) scale(0.735,1)" font-size="8.6" font-weight="bold" fill="#222" text-anchor="middle">Frequency (%)</text>
<text transform="translate(340.4,249.5) rotate(-90)" font-size="3.4" fill="#8a8a8a" textLength="26" lengthAdjust="spacingAndGlyphs">ash2023012345</text>
<text x="7" y="278.8" font-size="10.6" font-weight="bold" fill="#000" stroke="#000" stroke-width="0.35">B</text>
<text x="7.0" y="318.9" font-size="6.7" font-weight="bold" fill="#111" textLength="39.8" lengthAdjust="spacingAndGlyphs">mBEP cohort</text>
<text x="17.7" y="326.7" font-size="6.15" fill="#262626" textLength="28.8" lengthAdjust="spacing">18 variants</text>
<text x="19.9" y="332.5" font-size="6.15" fill="#262626" textLength="26.6" lengthAdjust="spacing">5 patients</text>
<text x="46.9" y="345.5" font-size="6.3" font-weight="bold" fill="#111" text-anchor="end">BAX</text>
<text x="12.0" y="353.3" font-size="6.3" fill="#262626" textLength="34.5" lengthAdjust="spacing">NM_138761</text>
<text x="14.8" y="366.9" font-size="6.6" font-weight="bold" fill="#111" textLength="32.2" lengthAdjust="spacingAndGlyphs">CLL cohort</text>
<text x="17.1" y="374.6" font-size="6.15" fill="#262626" textLength="29.5" lengthAdjust="spacing">28 variants</text>
<text x="17.1" y="380.7" font-size="6.15" fill="#262626" textLength="29.5" lengthAdjust="spacing">13 patients</text>
<rect x="51.5" y="343.4" width="461.0" height="16.20" fill="#fff"/>
<rect x="87.8" y="343.4" width="47.70" height="16.20" fill="#c9c9c9"/>
<rect x="178.75" y="343.4" width="42.75" height="16.20" fill="#c9c9c9"/>
<rect x="226.25" y="343.4" width="18.75" height="16.20" fill="#c9c9c9"/>
<rect x="262.5" y="343.4" width="25.40" height="16.20" fill="#c9c9c9"/>
<rect x="307.5" y="343.4" width="45.50" height="16.20" fill="#c9c9c9"/>
<rect x="360.5" y="343.4" width="39.50" height="16.20" fill="#c9c9c9"/>
<rect x="405.5" y="343.4" width="14.50" height="16.20" fill="#c9c9c9"/>
<rect x="427.5" y="343.4" width="16.25" height="16.20" fill="#c9c9c9"/>
<rect x="456.25" y="343.4" width="43.75" height="16.20" fill="#c9c9c9"/>
<rect x="51.5" y="343.4" width="461.0" height="16.20" fill="none" stroke="#444" stroke-width="1"/>
<text x="95.3" y="358.2" font-size="6.0" fill="#262626">20</text>
<text x="143.0" y="358.2" font-size="6.0" fill="#262626">40</text>
<text x="190.5" y="358.2" font-size="6.0" fill="#262626">60</text>
<text x="237" y="358.2" font-size="6.0" fill="#262626">80</text>
<text x="284.5" y="358.2" font-size="6.0" fill="#262626">100</text>
<text x="331" y="358.2" font-size="6.0" fill="#262626">120</text>
<text x="380" y="358.2" font-size="6.0" fill="#262626">140</text>
<text x="428" y="358.2" font-size="6.0" fill="#262626">160</text>
<text x="475" y="358.2" font-size="6.0" fill="#262626">180</text>
<line x1="78.5" y1="344.30" x2="78.5" y2="359.00" stroke="#1a1a1a" stroke-width="1" stroke-dasharray="2.7,1.9"/>
<line x1="119.6" y1="344.30" x2="119.6" y2="359.00" stroke="#1a1a1a" stroke-width="1" stroke-dasharray="2.7,1.9"/>
<line x1="237.3" y1="344.30" x2="237.3" y2="359.00" stroke="#1a1a1a" stroke-width="1" stroke-dasharray="2.7,1.9"/>
<line x1="345.6" y1="344.30" x2="345.6" y2="359.00" stroke="#1a1a1a" stroke-width="1" stroke-dasharray="2.7,1.9"/>
<line x1="429.6" y1="344.30" x2="429.6" y2="359.00" stroke="#1a1a1a" stroke-width="1" stroke-dasharray="2.7,1.9"/>
<line x1="78.5" y1="308.2" x2="78.5" y2="343.4" stroke="#5e3c6c" stroke-width="1.0"/>
<circle cx="78.5" cy="308.2" r="1.95" fill="#56207a"/>
<text transform="translate(80.00,304.65) rotate(-90)" font-size="4.45" fill="#56207a" fill-opacity="0.95">c.20-2A&gt;G</text>
<line x1="83.6" y1="308.2" x2="83.6" y2="343.4" stroke="#3d5d7c" stroke-width="1.0"/>
<circle cx="83.6" cy="308.2" r="1.95" fill="#1f4a7c"/>
<text x="86.85" y="309.60" font-size="4.0" fill="#1f4a7c" fill-opacity="0.9">T14P</text>
<line x1="119.5" y1="308.2" x2="119.5" y2="343.4" stroke="#5e3c6c" stroke-width="1.0"/>
<circle cx="119.5" cy="308.2" r="1.95" fill="#56207a"/>
<text transform="translate(121.00,304.65) rotate(-90)" font-size="4.45" fill="#56207a" fill-opacity="0.95">c.61-2A&gt;G</text>
<line x1="138.4" y1="308.2" x2="138.4" y2="343.4" stroke="#e0a458" stroke-width="1.0"/>
<circle cx="138.4" cy="308.2" r="1.95" fill="#f29c1f"/>
<text x="141.65" y="309.60" font-size="4.0" fill="#f29c1f" fill-opacity="0.9">R37*</text>
<line x1="190.5" y1="308.2" x2="190.5" y2="343.4" stroke="#3d5d7c" stroke-width="1.0"/>
<circle cx="190.5" cy="308.2" r="1.95" fill="#1f4a7c"/>
<text x="193.75" y="309.60" font-size="4.0" fill="#1f4a7c" fill-opacity="0.9">L59V</text>
<line x1="236.2" y1="308.2" x2="236.2" y2="343.4" stroke="#5e3c6c" stroke-width="1.0"/>
<circle cx="236.2" cy="308.2" r="1.95" fill="#56207a"/>
<text x="239.45" y="309.60" font-size="4.0" fill="#56207a" fill-opacity="0.9">c.233+1G&gt;A</text>
<line x1="300.5" y1="308.2" x2="300.5" y2="343.4" stroke="#a8405e" stroke-width="1.0"/>
<circle cx="300.5" cy="308.2" r="1.95" fill="#c00a2d"/>
<text transform="translate(302.00,304.65) rotate(-90)" font-size="4.45" fill="#c00a2d" fill-opacity="0.95">F105fs</text>
<line x1="305.7" y1="308.2" x2="305.7" y2="343.4" stroke="#e0a458" stroke-width="1.0"/>
<circle cx="305.7" cy="308.2" r="1.95" fill="#f29c1f"/>
<text x="308.95" y="309.60" font-size="4.0" fill="#f29c1f" fill-opacity="0.9">W107*</text>
<line x1="348.3" y1="308.2" x2="348.3" y2="343.4" stroke="#3d5d7c" stroke-width="1.0"/>
<circle cx="348.3" cy="308.2" r="1.95" fill="#1f4a7c"/>
<text x="351.55" y="309.60" font-size="4.0" fill="#1f4a7c" fill-opacity="0.9">L125Q</text>
<polyline points="433.6,308.2 433.6,316.5 456.6,329.0 456.6,343.4" fill="none" stroke="#e0a458" stroke-width="1.0" stroke-linejoin="round"/>
<circle cx="433.6" cy="308.2" r="1.95" fill="#f29c1f"/>
<text transform="translate(435.10,304.65) rotate(-90)" font-size="4.45" fill="#f29c1f" fill-opacity="0.95">W151*</text>
<polyline points="439.1,308.2 439.1,316.5 458.5,329.0 458.5,343.4" fill="none" stroke="#e0a458" stroke-width="1.0" stroke-linejoin="round"/>
<circle cx="439.1" cy="308.2" r="1.95" fill="#f29c1f"/>
<text transform="translate(440.60,304.65) rotate(-90)" font-size="4.45" fill="#f29c1f" fill-opacity="0.95">Q171*</text>
<polyline points="444.5,308.2 444.5,316.5 468.3,329.0 468.3,343.4" fill="none" stroke="#a8405e" stroke-width="1.0" stroke-linejoin="round"/>
<circle cx="444.5" cy="308.2" r="1.95" fill="#c00a2d"/>
<text x="447.75" y="309.60" font-size="4.0" fill="#c00a2d" fill-opacity="0.9">I170fs</text>
<circle cx="444.5" cy="302.0" r="1.95" fill="#4a3018"/>
<text x="447.3" y="303.4" font-size="4.3" fill="#6e421a" fill-opacity="0.9">I170_F176del</text>
<polyline points="479.3,308.2 479.3,315.5 475.8,328.0 475.8,343.4" fill="none" stroke="#3d5d7c" stroke-width="1.0" stroke-linejoin="round"/>
<circle cx="479.3" cy="308.2" r="1.95" fill="#1f4a7c"/>
<text transform="translate(480.80,304.65) rotate(-90)" font-size="4.45" fill="#1f4a7c" fill-opacity="0.95">A178E</text>
<polyline points="485.6,308.2 485.6,315.5 482.4,328.0 482.4,343.4" fill="none" stroke="#3d5d7c" stroke-width="1.0" stroke-linejoin="round"/>
<circle cx="485.6" cy="308.2" r="3.1" fill="#1f4a7c"/>
<text x="485.6" y="309.90" font-size="4.8" font-weight="bold" fill="#fff" text-anchor="middle">2</text>
<text transform="translate(487.10,303.50) rotate(-90)" font-size="4.45" fill="#1f4a7c" fill-opacity="0.95">L185H</text>
<polyline points="491.9,308.2 491.9,315.5 491.5,328.0 491.5,343.4" fill="none" stroke="#a8405e" stroke-width="1.0" stroke-linejoin="round"/>
<circle cx="491.9" cy="308.2" r="1.95" fill="#c00a2d"/>
<text transform="translate(493.40,304.65) rotate(-90)" font-size="4.45" fill="#c00a2d" fill-opacity="0.95">L185fs</text>
<polyline points="497.7,308.2 497.7,315.5 494.6,328.0 494.6,343.4" fill="none" stroke="#a8405e" stroke-width="1.0" stroke-linejoin="round"/>
<circle cx="497.7" cy="308.2" r="1.95" fill="#c00a2d"/>
<text transform="translate(499.20,304.65) rotate(-90)" font-size="4.45" fill="#c00a2d" fill-opacity="0.95">T186fs</text>
<line x1="116.5" y1="363.6" x2="116.5" y2="421.5" stroke="#e0a458" stroke-width="1.0"/>
<circle cx="116.5" cy="421.5" r="1.95" fill="#f29c1f"/>
<text transform="translate(115.00,425.05) rotate(90)" font-size="4.45" fill="#f29c1f" fill-opacity="0.95">Q18*</text>
<polyline points="119.2,363.6 119.2,398 121.8,414 121.8,421.5" fill="none" stroke="#5e3c6c" stroke-width="1.0" stroke-linejoin="round"/>
<circle cx="121.8" cy="421.5" r="1.95" fill="#56207a"/>
<text transform="translate(120.30,425.05) rotate(90)" font-size="4.45" fill="#56207a" fill-opacity="0.95">c.61-2A&gt;G</text>
<polyline points="121.4,363.6 121.4,398 127.4,414 127.4,421.5" fill="none" stroke="#3d5d7c" stroke-width="1.0" stroke-linejoin="round"/>
<circle cx="127.4" cy="421.5" r="1.95" fill="#1f4a7c"/>
<text transform="translate(125.90,425.05) rotate(90)" font-size="4.45" fill="#1f4a7c" fill-opacity="0.95">P20L</text>
<polyline points="131.0,363.6 131.0,398 135.0,414 135.0,424.4" fill="none" stroke="#e0a458" stroke-width="1.0" stroke-linejoin="round"/>
<circle cx="135.0" cy="424.4" r="3.6" fill="#f29c1f"/>
<text x="135.0" y="426.30" font-size="5.4" font-weight="bold" fill="#fff" text-anchor="middle">2</text>
<text transform="translate(133.50,429.60) rotate(90)" font-size="4.45" fill="#f29c1f" fill-opacity="0.95">R34*</text>
<polyline points="138.5,363.6 138.5,398 144.0,414 144.0,424.4" fill="none" stroke="#e0a458" stroke-width="1.0" stroke-linejoin="round"/>
<circle cx="144.0" cy="424.4" r="3.6" fill="#f29c1f"/>
<text x="144.0" y="426.30" font-size="5.4" font-weight="bold" fill="#fff" text-anchor="middle">2</text>
<text transform="translate(142.50,429.60) rotate(90)" font-size="4.45" fill="#f29c1f" fill-opacity="0.95">W35*</text>
<polyline points="147.7,363.6 147.7,398 154.4,414 154.4,425.2" fill="none" stroke="#a8405e" stroke-width="1.0" stroke-linejoin="round"/>
<circle cx="154.4" cy="425.2" r="4.5" fill="#c00a2d"/>
<text x="154.4" y="427.10" font-size="5.4" font-weight="bold" fill="#fff" text-anchor="middle">5</text>
<text x="160.50" y="426.70" font-size="4.3" fill="#c00a2d" fill-opacity="0.9">E41fs</text>
<line x1="262.1" y1="363.6" x2="262.1" y2="421.5" stroke="#e0a458" stroke-width="1.0"/>
<circle cx="262.1" cy="421.5" r="1.95" fill="#f29c1f"/>
<text transform="translate(260.60,425.05) rotate(90)" font-size="4.45" fill="#f29c1f" fill-opacity="0.95">Q91*</text>
<line x1="274.2" y1="363.6" x2="274.2" y2="421.5" stroke="#a8405e" stroke-width="1.0"/>
<circle cx="274.2" cy="421.5" r="1.95" fill="#c00a2d"/>
<text x="277.75" y="423.00" font-size="4.3" fill="#c00a2d" fill-opacity="0.9">R94fs</text>
<line x1="343.1" y1="363.6" x2="343.1" y2="421.5" stroke="#3d5d7c" stroke-width="1.0"/>
<circle cx="343.1" cy="421.5" r="1.95" fill="#1f4a7c"/>
<text x="346.65" y="423.00" font-size="4.3" fill="#1f4a7c" fill-opacity="0.9">K128M</text>
<polyline points="429.8,363.6 429.8,397.8 399.8,413.6 399.8,421.6" fill="none" stroke="#5e3c6c" stroke-width="1.0" stroke-linejoin="round"/>
<circle cx="399.8" cy="421.6" r="1.95" fill="#56207a"/>
<text x="403.35" y="423.10" font-size="4.3" fill="#56207a" fill-opacity="0.9">c.475-1G&gt;A</text>
<circle cx="399.8" cy="428.3" r="1.95" fill="#56207a"/>
<text x="403.4" y="429.6" font-size="4.2" fill="#56207a">c.475-22_475-19del</text>
<polyline points="455.7,363.6 455.7,396.3 447.7,413.6 447.7,421.6" fill="none" stroke="#3d5d7c" stroke-width="1.0" stroke-linejoin="round"/>
<circle cx="447.7" cy="421.6" r="1.95" fill="#1f4a7c"/>
<text transform="translate(446.20,425.15) rotate(90)" font-size="4.45" fill="#1f4a7c" fill-opacity="0.95">W158S</text>
<polyline points="457.6,363.6 457.6,396.3 453.0,413.6 453.0,421.6" fill="none" stroke="#e0a458" stroke-width="1.0" stroke-linejoin="round"/>
<circle cx="453.0" cy="421.6" r="1.95" fill="#f29c1f"/>
<text transform="translate(451.50,425.15) rotate(90)" font-size="4.45" fill="#f29c1f" fill-opacity="0.95">Q171*</text>
<polyline points="465.9,363.6 465.9,396.3 458.6,413.6 458.6,421.6" fill="none" stroke="#a8405e" stroke-width="1.0" stroke-linejoin="round"/>
<circle cx="458.6" cy="421.6" r="1.95" fill="#c00a2d"/>
<text transform="translate(457.10,425.15) rotate(90)" font-size="4.45" fill="#c00a2d" fill-opacity="0.95">I166fs</text>
<polyline points="477.4,363.6 477.4,396.3 464.0,413.6 464.0,421.6" fill="none" stroke="#a8405e" stroke-width="1.0" stroke-linejoin="round"/>
<circle cx="464.0" cy="421.6" r="1.95" fill="#c00a2d"/>
<text transform="translate(462.50,425.15) rotate(90)" font-size="4.45" fill="#c00a2d" fill-opacity="0.95">G179fs</text>
<polyline points="487.5,363.6 487.5,396.3 471.6,413.6 471.6,424.1" fill="none" stroke="#3d5d7c" stroke-width="1.0" stroke-linejoin="round"/>
<circle cx="471.6" cy="424.1" r="3.4" fill="#1f4a7c"/>
<text x="471.6" y="426.00" font-size="5.4" font-weight="bold" fill="#fff" text-anchor="middle">2</text>
<text x="476.60" y="425.60" font-size="4.3" fill="#1f4a7c" fill-opacity="0.9">K183P</text>
<circle cx="471.6" cy="431.4" r="1.95" fill="#1f4a7c"/>
<text x="475.2" y="432.7" font-size="4.2" fill="#1f4a7c">A183T</text>
<polyline points="489.4,363.6 489.4,396.3 496.0,413.6 496.0,421.6" fill="none" stroke="#e0a458" stroke-width="1.0" stroke-linejoin="round"/>
<circle cx="496.0" cy="421.6" r="1.95" fill="#f29c1f"/>
<text transform="translate(494.50,425.15) rotate(90)" font-size="4.45" fill="#f29c1f" fill-opacity="0.95">S184*</text>
<polyline points="491.7,363.6 491.7,396.3 503.2,413.6 503.2,424.1" fill="none" stroke="#a8405e" stroke-width="1.0" stroke-linejoin="round"/>
<circle cx="503.2" cy="424.1" r="3.4" fill="#c00a2d"/>
<text x="503.2" y="426.00" font-size="5.4" font-weight="bold" fill="#fff" text-anchor="middle">2</text>
<text transform="translate(501.70,429.10) rotate(90)" font-size="4.45" fill="#c00a2d" fill-opacity="0.95">L185fs</text>
<polyline points="499.0,363.6 499.0,396.3 510.9,413.6 510.9,421.6" fill="none" stroke="#e0a458" stroke-width="1.0" stroke-linejoin="round"/>
<circle cx="510.9" cy="421.6" r="1.95" fill="#f29c1f"/>
<text transform="translate(509.40,425.15) rotate(90)" font-size="4.45" fill="#f29c1f" fill-opacity="0.95">Y190*</text>
<rect x="51.7" y="455.8" width="6.1" height="6.1" fill="#d6d6d6" stroke="#aaa" stroke-width="0.5"/>
<text x="60.4" y="461.4" font-size="6.15" fill="#333">α1-9 helices</text>
<circle cx="107.0" cy="459.0" r="3.9" fill="#c00a2d"/>
<text x="113.8" y="461.4" font-size="6.05" fill="#c00a2d">Frameshift</text>
<circle cx="154.6" cy="459.0" r="3.9" fill="#f29c1f"/>
<text x="161.5" y="461.4" font-size="6.05" fill="#f29c1f">Nonsense</text>
<circle cx="201.5" cy="459.0" r="3.9" fill="#1f4a7c"/>
<text x="207.8" y="461.4" font-size="6.05" fill="#1f4a7c">Missense</text>
<circle cx="246.8" cy="459.0" r="3.9" fill="#56207a"/>
<text x="253.0" y="461.4" font-size="6.05" fill="#56207a">Splice site</text>
<circle cx="293.8" cy="459.0" r="3.9" fill="#6e421a"/>
<text x="300.8" y="461.4" font-size="6.05" fill="#6e421a">In-frame</text>
<rect x="0.5" y="0.5" width="519" height="469" fill="none" stroke="#555" stroke-width="1"/>
</svg>
</body></html>
